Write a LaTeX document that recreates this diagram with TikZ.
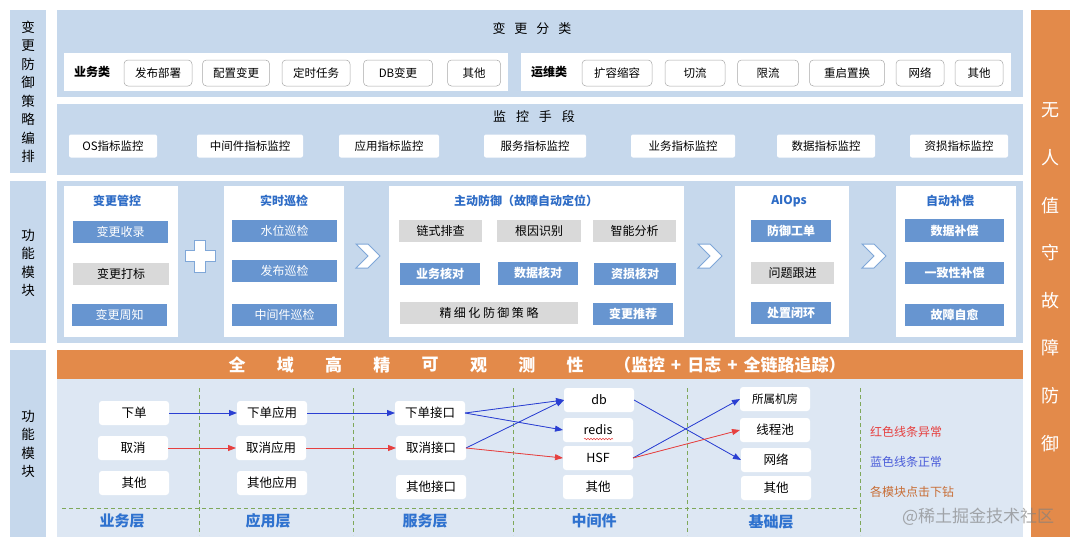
\documentclass[tikz,border=0pt]{standalone}
\usepackage{fontspec}
\setmainfont{Noto Sans CJK SC}
\usetikzlibrary{arrows.meta,decorations.pathmorphing}
\definecolor{panelc}{HTML}{C6D8EC}
\definecolor{panellt}{HTML}{DDE7F3}
\definecolor{bluec}{HTML}{6795D0}
\definecolor{grayc}{HTML}{D9D9D9}
\definecolor{orangec}{HTML}{E38A4A}
\definecolor{titleblue}{HTML}{2E6CC6}
\definecolor{layerblue}{HTML}{2F72CF}
\definecolor{arrblue}{HTML}{2A3FD2}
\definecolor{arrred}{HTML}{E6403F}
\definecolor{dashgreen}{HTML}{7FA85A}
\definecolor{legbrown}{HTML}{C86E36}
\definecolor{tagline}{HTML}{A8A8A8}
\definecolor{chevc}{HTML}{7FA7D8}
\newcommand{\fsz}[1]{\fontsize{#1}{#1}\selectfont}
\begin{document}
\begin{tikzpicture}[x=1pt,y=-1pt,
  every node/.style={inner sep=0pt, outer sep=0pt},
  tagbox/.style={draw=tagline, line width=0.5pt, fill=white, rounded corners=4pt, minimum height=26pt, font=\fsz{11.5}},
  monbox/.style={fill=white, rounded corners=2pt, minimum height=23pt, font=\fsz{11.5}},
  bbox/.style={fill=bluec, text=white, minimum height=22pt, font=\fsz{12}},
  bbbox/.style={bbox, font=\bfseries\fsz{12}},
  gbox/.style={fill=grayc, minimum height=22pt, font=\fsz{12}},
  cardtitle/.style={text=titleblue, font=\bfseries\fsz{12}},
  wbox/.style={fill=white, rounded corners=3pt, minimum width=70pt, minimum height=24pt, font=\fsz{12.5}},
  layer/.style={text=layerblue, font=\bfseries\fsz{15}},
  vtext/.style={align=center, font=\fontsize{13.5}{18.5}\selectfont},
  sectitle/.style={font=\fsz{13}},
  conn/.style={line width=0.8pt, -{Triangle[length=8pt,width=6pt]}},
  okc/.style={conn, draw=arrblue, fill=arrblue},
  errc/.style={conn, draw=arrred, fill=arrred},
  gdash/.style={draw=dashgreen, line width=0.9pt, dash pattern=on 4pt off 3pt},
  chev/.style={fill=white, draw=chevc, line width=1pt},
  headc/.style={text=white, font=\bfseries\fsz{17}},
  sidec/.style={text=white, font=\fsz{18}},
  legend/.style={anchor=west, font=\fsz{12}},
]
\useasboundingbox (0,0) rectangle (1080,544);
\fill[white] (0,0) rectangle (1080,544);

% left strips
\fill[panelc] (10,10) rectangle (46,173);
\node[vtext] (s1) at (28,92) {变\\更\\防\\御\\策\\略\\编\\排};
\fill[panelc] (10,181) rectangle (46,343);
\node[vtext] (s2) at (28,263) {功\\能\\模\\块};
\fill[panelc] (10,350) rectangle (46,537);
\node[vtext] (s3) at (28,444) {功\\能\\模\\块};

% right orange column
\fill[orangec] (1031,10) rectangle (1070,537);
\foreach \c [count=\i from 0] in {无,人,值,守,故,障,防,御}
  \node[sidec] (side\i) at (1050,110+47.6*\i) {\c};

% row 1
\fill[panelc] (57,10) rectangle (1023,97);
\node[sectitle] (t1) at (532,29) {变\hspace{9pt}更\hspace{9pt}分\hspace{9pt}类};
\fill[white] (64,53) rectangle (508,91);
\fill[white] (521,53) rectangle (1011,91);
\node[font=\bfseries\fsz{12}] (g1) at (92,72) {业务类};
\node[tagbox, minimum width=68pt] (tb1) at (158,73) {发布部署};
\node[tagbox, minimum width=67pt] (tb2) at (236,73) {配置变更};
\node[tagbox, minimum width=68pt] (tb3) at (316,73) {定时任务};
\node[tagbox, minimum width=69pt] (tb4) at (398,73) {DB变更};
\node[tagbox, minimum width=53pt] (tb5) at (474,73) {其他};
\node[font=\bfseries\fsz{12}] (g2) at (549,72) {运维类};
\node[tagbox, minimum width=70pt] (to1) at (617,73) {扩容缩容};
\node[tagbox, minimum width=60pt] (to2) at (695,73) {切流};
\node[tagbox, minimum width=61pt] (to3) at (768,73) {限流};
\node[tagbox, minimum width=75pt] (to4) at (847,73) {重启置换};
\node[tagbox, minimum width=48pt] (to5) at (920,73) {网络};
\node[tagbox, minimum width=48pt] (to6) at (979,73) {其他};

% row 2
\fill[panelc] (57,104) rectangle (1023,175);
\node[sectitle] (t2) at (534,117) {监\hspace{10pt}控\hspace{10pt}手\hspace{10pt}段};
\node[monbox, minimum width=88pt] (mo1) at (113,146) {OS指标监控};
\node[monbox, minimum width=106pt] (mo2) at (250,146) {中间件指标监控};
\node[monbox, minimum width=100pt] (mo3) at (389,146) {应用指标监控};
\node[monbox, minimum width=102pt] (mo4) at (535,146) {服务指标监控};
\node[monbox, minimum width=104pt] (mo5) at (683,146) {业务指标监控};
\node[monbox, minimum width=98pt] (mo6) at (826,146) {数据指标监控};
\node[monbox, minimum width=98pt] (mo7) at (959,146) {资损指标监控};

% row 3
\fill[panelc] (57,181) rectangle (1023,343);
\fill[white] (64,186) rectangle (178,337);
\fill[white] (224,186) rectangle (344,337);
\fill[white] (389,186) rectangle (684,337);
\fill[white] (735,186) rectangle (849,337);
\fill[white] (896,186) rectangle (1016,337);

\node[cardtitle] (c1) at (117,201) {变更管控};
\node[bbox, minimum width=95pt] (c1a) at (120.5,232) {变更收录};
\node[gbox, minimum width=96pt] (c1b) at (121,273.5) {变更打标};
\node[bbox, minimum width=95pt] (c1c) at (119.5,315) {变更周知};

\node[cardtitle] (c2) at (284,201) {实时巡检};
\node[bbox, minimum width=105pt] (c2a) at (284.5,231) {水位巡检};
\node[bbox, minimum width=105pt] (c2b) at (284.5,271) {发布巡检};
\node[bbox, minimum width=105pt] (c2c) at (284.5,314.5) {中间件巡检};

\node[cardtitle] (c3) at (526,201) {主动防御（故障自动定位）};
\node[gbox, minimum width=83pt] (c3a) at (440.5,231) {链式排查};
\node[gbox, minimum width=84pt] (c3b) at (539,231) {根因识别};
\node[gbox, minimum width=83pt] (c3c) at (634.5,231) {智能分析};
\node[bbbox, minimum width=80pt] (c3d) at (440,273.5) {业务核对};
\node[bbbox, minimum width=80pt, minimum height=23pt] (c3e) at (538,273) {数据核对};
\node[bbbox, minimum width=82pt] (c3f) at (635,274) {资损核对};
\node[gbox, minimum width=178pt] (c3g) at (489,313) {精\hspace{2.5pt}细\hspace{2.5pt}化\hspace{2.5pt}防\hspace{2.5pt}御\hspace{2.5pt}策\hspace{2.5pt}略};
\node[bbbox, minimum width=80pt] (c3h) at (633,314) {变更推荐};

\node[cardtitle] (c4) at (789,201) {AIOps};
\node[bbbox, minimum width=80pt] (c4a) at (791,231) {防御工单};
\node[gbox, minimum width=83pt] (c4b) at (792.5,273) {问题跟进};
\node[bbbox, minimum width=80pt] (c4c) at (791,313) {处置闭环};

\node[cardtitle] (c5) at (950,201) {自动补偿};
\node[bbbox, minimum width=99pt, minimum height=23pt] (c5a) at (954.5,230.5) {数据补偿};
\node[bbbox, minimum width=99pt] (c5b) at (954.5,273) {一致性补偿};
\node[bbbox, minimum width=99pt] (c5c) at (954.5,314.5) {故障自愈};

% plus and chevrons
\draw[chev, shift={(200,256)}] (-5.5,-16) -- (5.5,-16) -- (5.5,-5.5) -- (15,-5.5) -- (15,5.5) -- (5.5,5.5) -- (5.5,16) -- (-5.5,16) -- (-5.5,5.5) -- (-15,5.5) -- (-15,-5.5) -- (-5.5,-5.5) -- cycle;
\foreach \cx in {368,710,874}
  \draw[chev, shift={(\cx,256)}] (-12,-12) -- (0,-12) -- (12,0) -- (0,12) -- (-12,12) -- (0,0) -- cycle;

% row 4
\fill[panellt] (57,378) rectangle (1023,537);
\fill[orangec] (57,350) rectangle (1023,379);
\foreach \c [count=\i from 0] in {全,域,高,精,可,观,测,性}
  \node[headc] (h\i) at (237+48.3*\i,365) {\c};
\node[headc, anchor=west] (hx) at (614,365) {（监控\hspace{6pt}+\hspace{6pt}日志\hspace{6pt}+\hspace{6pt}全链路追踪）};

\foreach \xx in {199,353,513,687,860}
  \draw[gdash] (\xx,388) -- (\xx,535);
\draw[gdash] (62,508) -- (860,508);

\node[wbox] (b1) at (134,413) {下单};
\node[wbox] (b2) at (133,448) {取消};
\node[wbox] (b3) at (134,483) {其他};
\node[wbox] (a1) at (272,413) {下单应用};
\node[wbox] (a2) at (271,448) {取消应用};
\node[wbox] (a3) at (272,483) {其他应用};
\node[wbox] (i1) at (430,413) {下单接口};
\node[wbox] (i2) at (431,448) {取消接口};
\node[wbox] (i3) at (431,487) {其他接口};
\node[wbox] (m1) at (599,400) {db};
\node[wbox] (m2) at (598,430) {redis};
\node[wbox] (m3) at (598,458) {HSF};
\node[wbox] (m4) at (598,487) {其他};
\node[wbox, font=\fsz{11.5}] (f1) at (775,399) {所属机房};
\node[wbox] (f2) at (775,430) {线程池};
\node[wbox] (f3) at (776,460) {网络};
\node[wbox] (f4) at (776,488) {其他};
\draw[arrred, line width=0.5pt, decorate, decoration={snake, amplitude=0.8pt, segment length=3pt}] (584,439) -- (613,439);

\node[layer] (l1) at (122,521) {业务层};
\node[layer] (l2) at (268,521) {应用层};
\node[layer] (l3) at (425,521) {服务层};
\node[layer] (l4) at (594,521) {中间件};
\node[layer] (l5) at (771,522) {基础层};

\draw[okc] (b1) -- (a1);
\draw[errc] (b2) -- (a2);
\draw[okc] (a1) -- (i1);
\draw[errc] (a2) -- (i2);
\draw[okc] (i1.east) -- (m1.west);
\draw[okc] (i1.east) -- (m2.west);
\draw[okc] (i2.east) -- (m1.west);
\draw[errc] (i2.east) -- (m3.west);
\draw[okc] (m1.east) -- (f3.west);
\draw[okc] (m3.east) -- (f1.west);
\draw[errc] (m3.east) -- (f2.west);

\node[legend, text=arrred] (lg1) at (870,432) {红色线条异常};
\node[legend, text=arrblue!85!white] (lg2) at (870,462) {蓝色线条正常};
\node[legend, text=legbrown] (lg3) at (870,492) {各模块点击下钻};
\node[anchor=west, text=gray, opacity=0.65, font=\fsz{17}] (wm) at (902,517) {@稀土掘金技术社区};
\end{tikzpicture}
\end{document}
